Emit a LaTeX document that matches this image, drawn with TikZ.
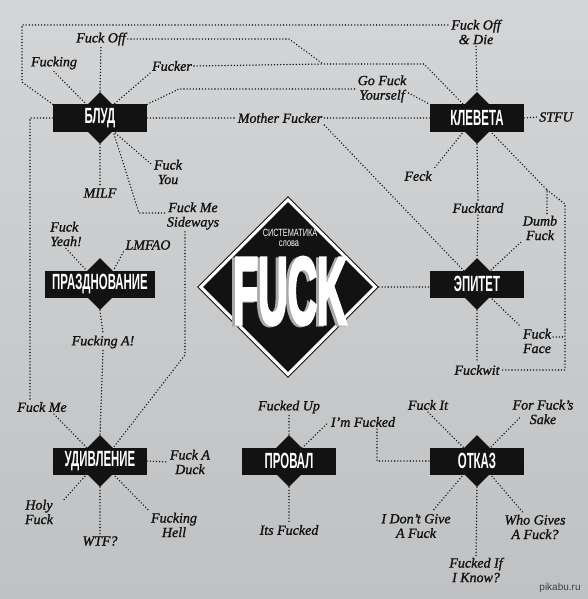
\documentclass[tikz,border=0pt]{standalone}
\usepackage{fontspec}
\setmainfont[FakeBold=1.2]{Liberation Serif}
\newfontfamily\catfont{Liberation Sans}
\newfontfamily\heavyfont[FakeBold=4]{Liberation Sans}
\usetikzlibrary{shapes.geometric}
\usetikzlibrary{calc}

\definecolor{ink}{RGB}{18,18,18}
\definecolor{papertop}{RGB}{212,213,215}
\definecolor{paperbot}{RGB}{192,193,195}
\definecolor{shade}{RGB}{170,170,170}

\pgfdeclarelayer{paper}
\pgfdeclarelayer{back}
\pgfsetlayers{paper,back,main}

% one category: a diamond behind a black box
\newcommand{\category}[3]{%
  \node[catdiamond] (#1d) at (#2) {};
  \node[catbox] (#1) at (#2) {\scalebox{0.52}[1]{#3}};
}

\begin{document}
\begin{tikzpicture}[x=1pt, y=-1pt,
    link/.style={draw=ink, line width=1.55pt, line cap=round, dash pattern=on 0pt off 3.1pt},
    lbl/.style={font=\itshape\fontsize{14}{14.5}\selectfont, text=ink, align=center, inner sep=2pt},
    catbox/.style={fill=ink, text=white, minimum width=94pt, minimum height=27pt, inner xsep=7pt,
      inner ysep=0pt, font=\catfont\bfseries\fontsize{22}{22}\selectfont},
    catdiamond/.style={diamond, fill=ink, minimum width=52pt, minimum height=52pt, inner sep=0pt}]

  \useasboundingbox (0,0) rectangle (588,599);
  \begin{pgfonlayer}{paper}
    \shade[top color=papertop, bottom color=paperbot] (0,0) rectangle (588,599);
  \end{pgfonlayer}

  % centre
  \node[diamond, draw=ink, line width=0.9pt, fill=white, minimum width=181pt, minimum height=181pt,
    inner sep=0pt] (fuck) at (288,287) {};
  \node[diamond, fill=ink, minimum width=170pt, minimum height=170pt, inner sep=0pt] (fuckcore) at (288,287) {};
  \node[text=white, inner sep=0pt, font=\catfont\fontsize{10.5}{10.5}\selectfont] (sistema) at (290,233)
    {\scalebox{0.7}[1]{СИСТЕМАТИКА}};
  \node[text=white, inner sep=0pt, font=\catfont\fontsize{10.5}{10.5}\selectfont] (slova) at (289,244)
    {\scalebox{0.7}[1]{слова}};
  \node[text=shade, inner sep=0pt, font=\heavyfont\bfseries\fontsize{95}{95}\selectfont] (fuckshade) at (287,292)
    {\scalebox{0.43}[1]{FUCK}};
  \node[text=white, inner sep=0pt, font=\heavyfont\bfseries\fontsize{95}{95}\selectfont] (fuckword) at (290,291)
    {\scalebox{0.43}[1]{FUCK}};

  % categories
  \category{blud}{100,118}{БЛУД}
  \category{kleveta}{477,118}{КЛЕВЕТА}
  \category{prazd}{100,284}{ПРАЗДНОВАНИЕ}
  \category{epitet}{477,284}{ЭПИТЕТ}
  \category{udiv}{100,461}{УДИВЛЕНИЕ}
  \category{proval}{289,461}{ПРОВАЛ}
  \category{otkaz}{477,461}{ОТКАЗ}

  % words
  \node[lbl] (fuckoff) at (101,39) {Fuck Off};
  \node[lbl] (fucking) at (54,63) {Fucking};
  \node[lbl] (fucker) at (172,66) {Fucker};
  \node[lbl] (mother) at (280,118) {Mother Fucker};
  \node[lbl] (fuckyou) at (168,172) {Fuck\\You};
  \node[lbl] (milf) at (100,193) {MILF};
  \node[lbl] (offdie) at (476,32) {Fuck Off\\\& Die};
  \node[lbl] (gofuck) at (382,89) {Go Fuck\\Yourself};
  \node[lbl] (stfu) at (556,117) {STFU};
  \node[lbl] (feck) at (418,176) {Feck};
  \node[lbl] (sideways) at (193,216) {Fuck Me\\Sideways};
  \node[lbl, align=left] (yeah) at (66,234) {Fuck\\Yeah!};
  \node[lbl] (lmfao) at (148,245) {LMFAO};
  \node[lbl] (fuckinga) at (103,342) {Fucking A!};
  \node[lbl] (fuckme) at (42,407) {Fuck Me};
  \node[lbl] (fucktard) at (478,208) {Fucktard};
  \node[lbl] (dumb) at (540,228) {Dumb\\Fuck};
  \node[lbl] (face) at (537,341) {Fuck\\Face};
  \node[lbl] (fuckwit) at (477,370) {Fuckwit};
  \node[lbl] (duck) at (190,462) {Fuck A\\Duck};
  \node[lbl] (holy) at (39,512) {Holy\\Fuck};
  \node[lbl] (wtf) at (100,541) {WTF?};
  \node[lbl] (hell) at (174,525) {Fucking\\Hell};
  \node[lbl] (fuckedup) at (289,407) {Fucked Up};
  \node[lbl] (itsfucked) at (289,530) {Its Fucked};
  \node[lbl] (imfucked) at (363,422) {I’m Fucked};
  \node[lbl] (fuckit) at (428,405) {Fuck It};
  \node[lbl] (sake) at (543,412) {For Fuck’s\\Sake};
  \node[lbl] (dontgive) at (416,526) {I Don’t Give\\A Fuck};
  \node[lbl] (whogives) at (535,527) {Who Gives\\A Fuck?};
  \node[lbl] (ifknow) at (476,570) {Fucked If\\I Know?};
  \node[text=black!75, inner sep=0pt, font=\catfont\fontsize{10}{10}\selectfont] (pikabu) at (560,588) {pikabu.ru};

  \coordinate (j1) at (323,64);
  \coordinate (j2) at (547,190);
  \coordinate (j3) at (565,204);
  \coordinate (faceend) at ([yshift=4pt]face.east);

  \begin{pgfonlayer}{back}
    % blud
    \draw[link] (fuckoff.south) -- (bludd.north);
    \draw[link] (fucking.south) -- (bludd.north west);
    \draw[link] (fucker.south west) -- (bludd.north east);
    \draw[link] (blud.north west) -- (22,82) -- (22,25) -- ([yshift=7pt]offdie.west);
    \draw[link] (fuckoff.east) -- (289,39) -- (j1) -- (424,64) -- (klevetad.north west);
    \draw[link] (fucker.east) -- (j1);
    \draw[link] (blud.north east) -- (179,89) -- (gofuck.west);
    \draw[link] ([yshift=-4pt]gofuck.east) -- (kleveta.north west);
    \draw[link] (blud.east) -- (mother.west);
    \draw[link] (mother.east) -- (kleveta.west);
    \draw[link] (mother.south east) -- (epitetd.north west);
    \draw[link] (blud.west) -| ([xshift=-12pt]fuckme.north);
    \draw[link] ([xshift=12pt]fuckme.south) -- (udivd.north west);
    \draw[link] (bludd.south) -- (milf.north);
    \draw[link] (bludd.south east) -- ([yshift=-7pt]fuckyou.north west);
    \draw[link] (bludd.south east) -- (139,213) -- ([yshift=3pt]sideways.west);
    \draw[link] ([xshift=-8pt]sideways.south) -- (185,355) -- (udivd.north east);
    % prazdnovanie
    \draw[link] (yeah.south) -- (prazdd.north west);
    \draw[link] (lmfao.south west) -- (prazdd.north east);
    \draw[link] (prazdd.south) -- (fuckinga.north);
    \draw[link] (fuckinga.south) -- (udivd.north);
    % kleveta
    \draw[link] (offdie.south) -- (klevetad.north);
    \draw[link] (kleveta.east) -- (stfu.west);
    \draw[link] (klevetad.south west) -- (feck.north east);
    \draw[link] (klevetad.south) -- (fucktard.north);
    \draw[link] (fucktard.south) -- (epitetd.north);
    \draw[link] (klevetad.south east) -- (j2) -- ([xshift=7pt]dumb.north);
    \draw[link] (j2) -- (j3) |- (fuckwit.east);
    \draw[link] (faceend) -- (faceend -| j3);
    % epitet
    \draw[link] (dumb.south west) -- (epitetd.north east);
    \draw[link] (epitetd.south east) -- (face.north west);
    \draw[link] (epitetd.south) -- (fuckwit.north);
    \draw[link] (fuck.east) -- (fuck.east -| epitet.west);
    % udivlenie
    \draw[link] (udiv.east) -- (duck.west);
    \draw[link] (udivd.south west) -- ([shift={(7,4)}]holy.north east);
    \draw[link] (udivd.south) -- (wtf.north);
    \draw[link] (udivd.south east) -- (hell.north west);
    % proval
    \draw[link] (fuckedup.south) -- (provald.north);
    \draw[link] (provald.north east) -- (imfucked.west);
    \draw[link] (provald.south) -- (itsfucked.north);
    % otkaz
    \draw[link] ([xshift=14pt]imfucked.south) |- (otkaz.west);
    \draw[link] (fuckit.south) -- (otkazd.north west);
    \draw[link] ([shift={(9,6)}]sake.west) -- (otkazd.north east);
    \draw[link] (otkazd.south west) -- ([xshift=16pt]dontgive.north);
    \draw[link] (otkazd.south) -- (ifknow.north);
    \draw[link] (otkazd.south east) -- ([xshift=-12pt]whogives.north);
  \end{pgfonlayer}
\end{tikzpicture}
\end{document}
